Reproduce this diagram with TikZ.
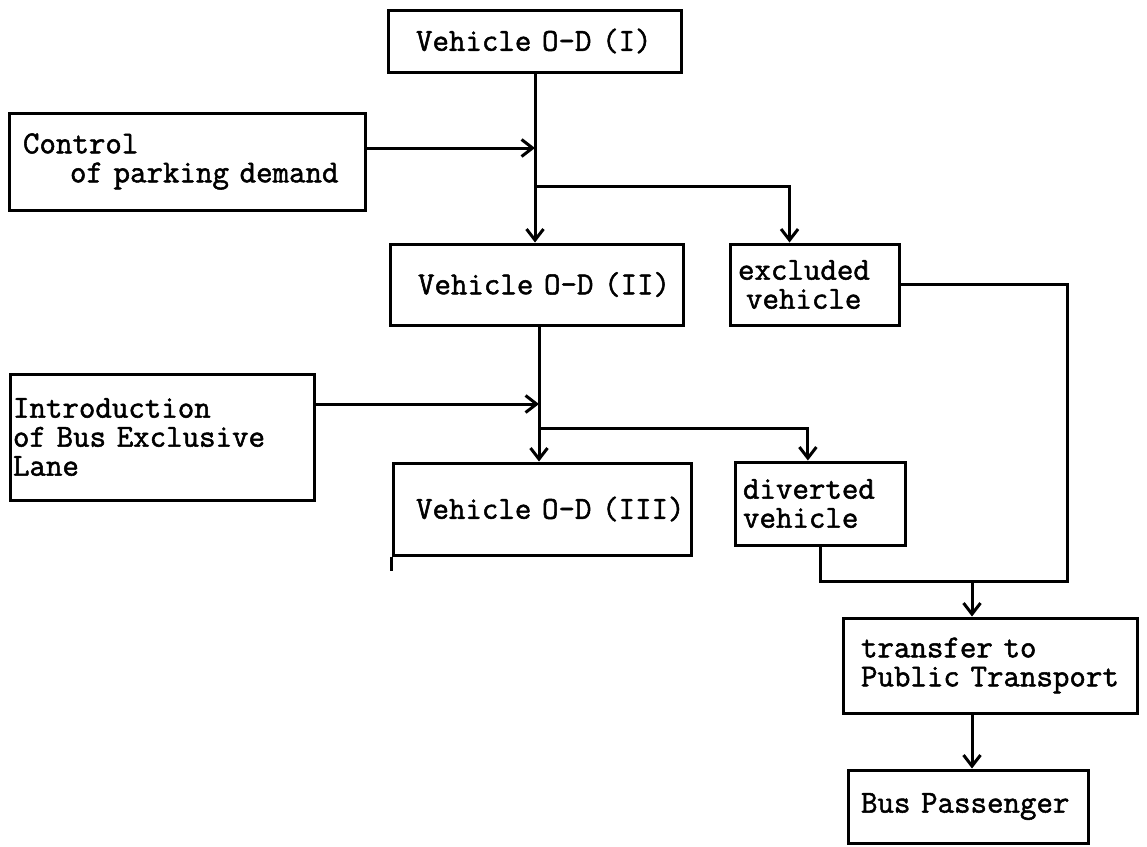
\documentclass[tikz,border=0pt]{standalone}
\usepackage{fontspec}
\usetikzlibrary{arrows.meta,calc}
% heavy typewriter face for the box labels
\newfontfamily\typeface[FakeBold=1.6]{Latin Modern Mono}
\begin{document}
\begin{tikzpicture}[x=1pt,y=-1pt,
  every node/.style={font=\typeface\fontsize{32}{29}\selectfont},
  box/.style={draw, line width=3pt, rectangle, inner xsep=0pt, inner ysep=0pt, align=left},
  link/.style={line width=3pt},
  arr/.style={link, -{Straight Barb[length=11pt,width=17pt]}}]
\useasboundingbox (0,0) rectangle (1147,846);

% boxes (text set flush left after a fixed indent)
\node[box, minimum width=293pt, minimum height=62pt, text width=293pt]
  (odI) at (534.5,41) {\hspace*{28pt}Vehicle O-D (I)};
\node[box, minimum width=356pt, minimum height=97pt, text width=356pt]
  (ctrl) at (187,161.5) {\hspace*{14pt}Control\\\hspace*{61pt}of parking demand};
\node[box, minimum width=293pt, minimum height=81pt, text width=293pt]
  (odII) at (536.5,284.5) {\hspace*{28pt}Vehicle O-D (II)};
\node[box, minimum width=169pt, minimum height=81pt, text width=169pt]
  (excl) at (814.5,284.5) {\hspace*{8pt}excluded\\\hspace*{16pt}vehicle};
\node[box, minimum width=304pt, minimum height=126pt, text width=304pt]
  (intro) at (162,437) {\hspace*{3pt}Introduction\\\hspace*{3pt}of Bus Exclusive\\\hspace*{3pt}Lane};
\node[box, minimum width=298pt, minimum height=92pt, text width=298pt]
  (odIII) at (542,509) {\hspace*{23pt}Vehicle O-D (III)};
\node[box, minimum width=170pt, minimum height=83pt, text width=170pt]
  (divert) at (820,503.5) {\hspace*{8pt}diverted\\\hspace*{8pt}vehicle};
\node[box, minimum width=294pt, minimum height=95pt, text width=294pt]
  (tr) at (990,665.5) {\hspace*{18pt}transfer to\\\hspace*{18pt}Public Transport};
\node[box, minimum width=240pt, minimum height=73pt, text width=240pt]
  (bus) at (968,806.5) {\hspace*{13pt}Bus Passenger};

% junction points on the flow lines
\coordinate (j1) at (535,148);
\coordinate (b1) at (535,186);
\coordinate (j2) at (539,404);
\coordinate (b2) at (539,428);
\coordinate (mc) at (1067,581);
\coordinate (mj) at (972,581);

% main stream
\draw[arr] (odI.south -| j1) -- (j1 |- odII.north);
\draw[arr] (ctrl.east |- j1) -- (j1);
\draw[arr] (b1) -| ($(excl.north west)!0.355!(excl.north east)$);
\draw[arr] (odII.south -| j2) -- (j2 |- odIII.north);
\draw[arr] (intro.east |- j2) -- (j2);
\draw[arr] (b2) -| ($(divert.north west)!0.43!(divert.north east)$);

% collecting the diverted and excluded vehicles
\draw[link] (excl.east) -| (mc) -- (mc -| divert.south) -- (divert.south);
\draw[arr] (mj) -- (mj |- tr.north);
\draw[arr] (mj |- tr.south) -- (mj |- bus.north);

% stray stroke below the third O-D box
\draw[link] (odIII.south west) -- ++(0,14);
\end{tikzpicture}
\end{document}
